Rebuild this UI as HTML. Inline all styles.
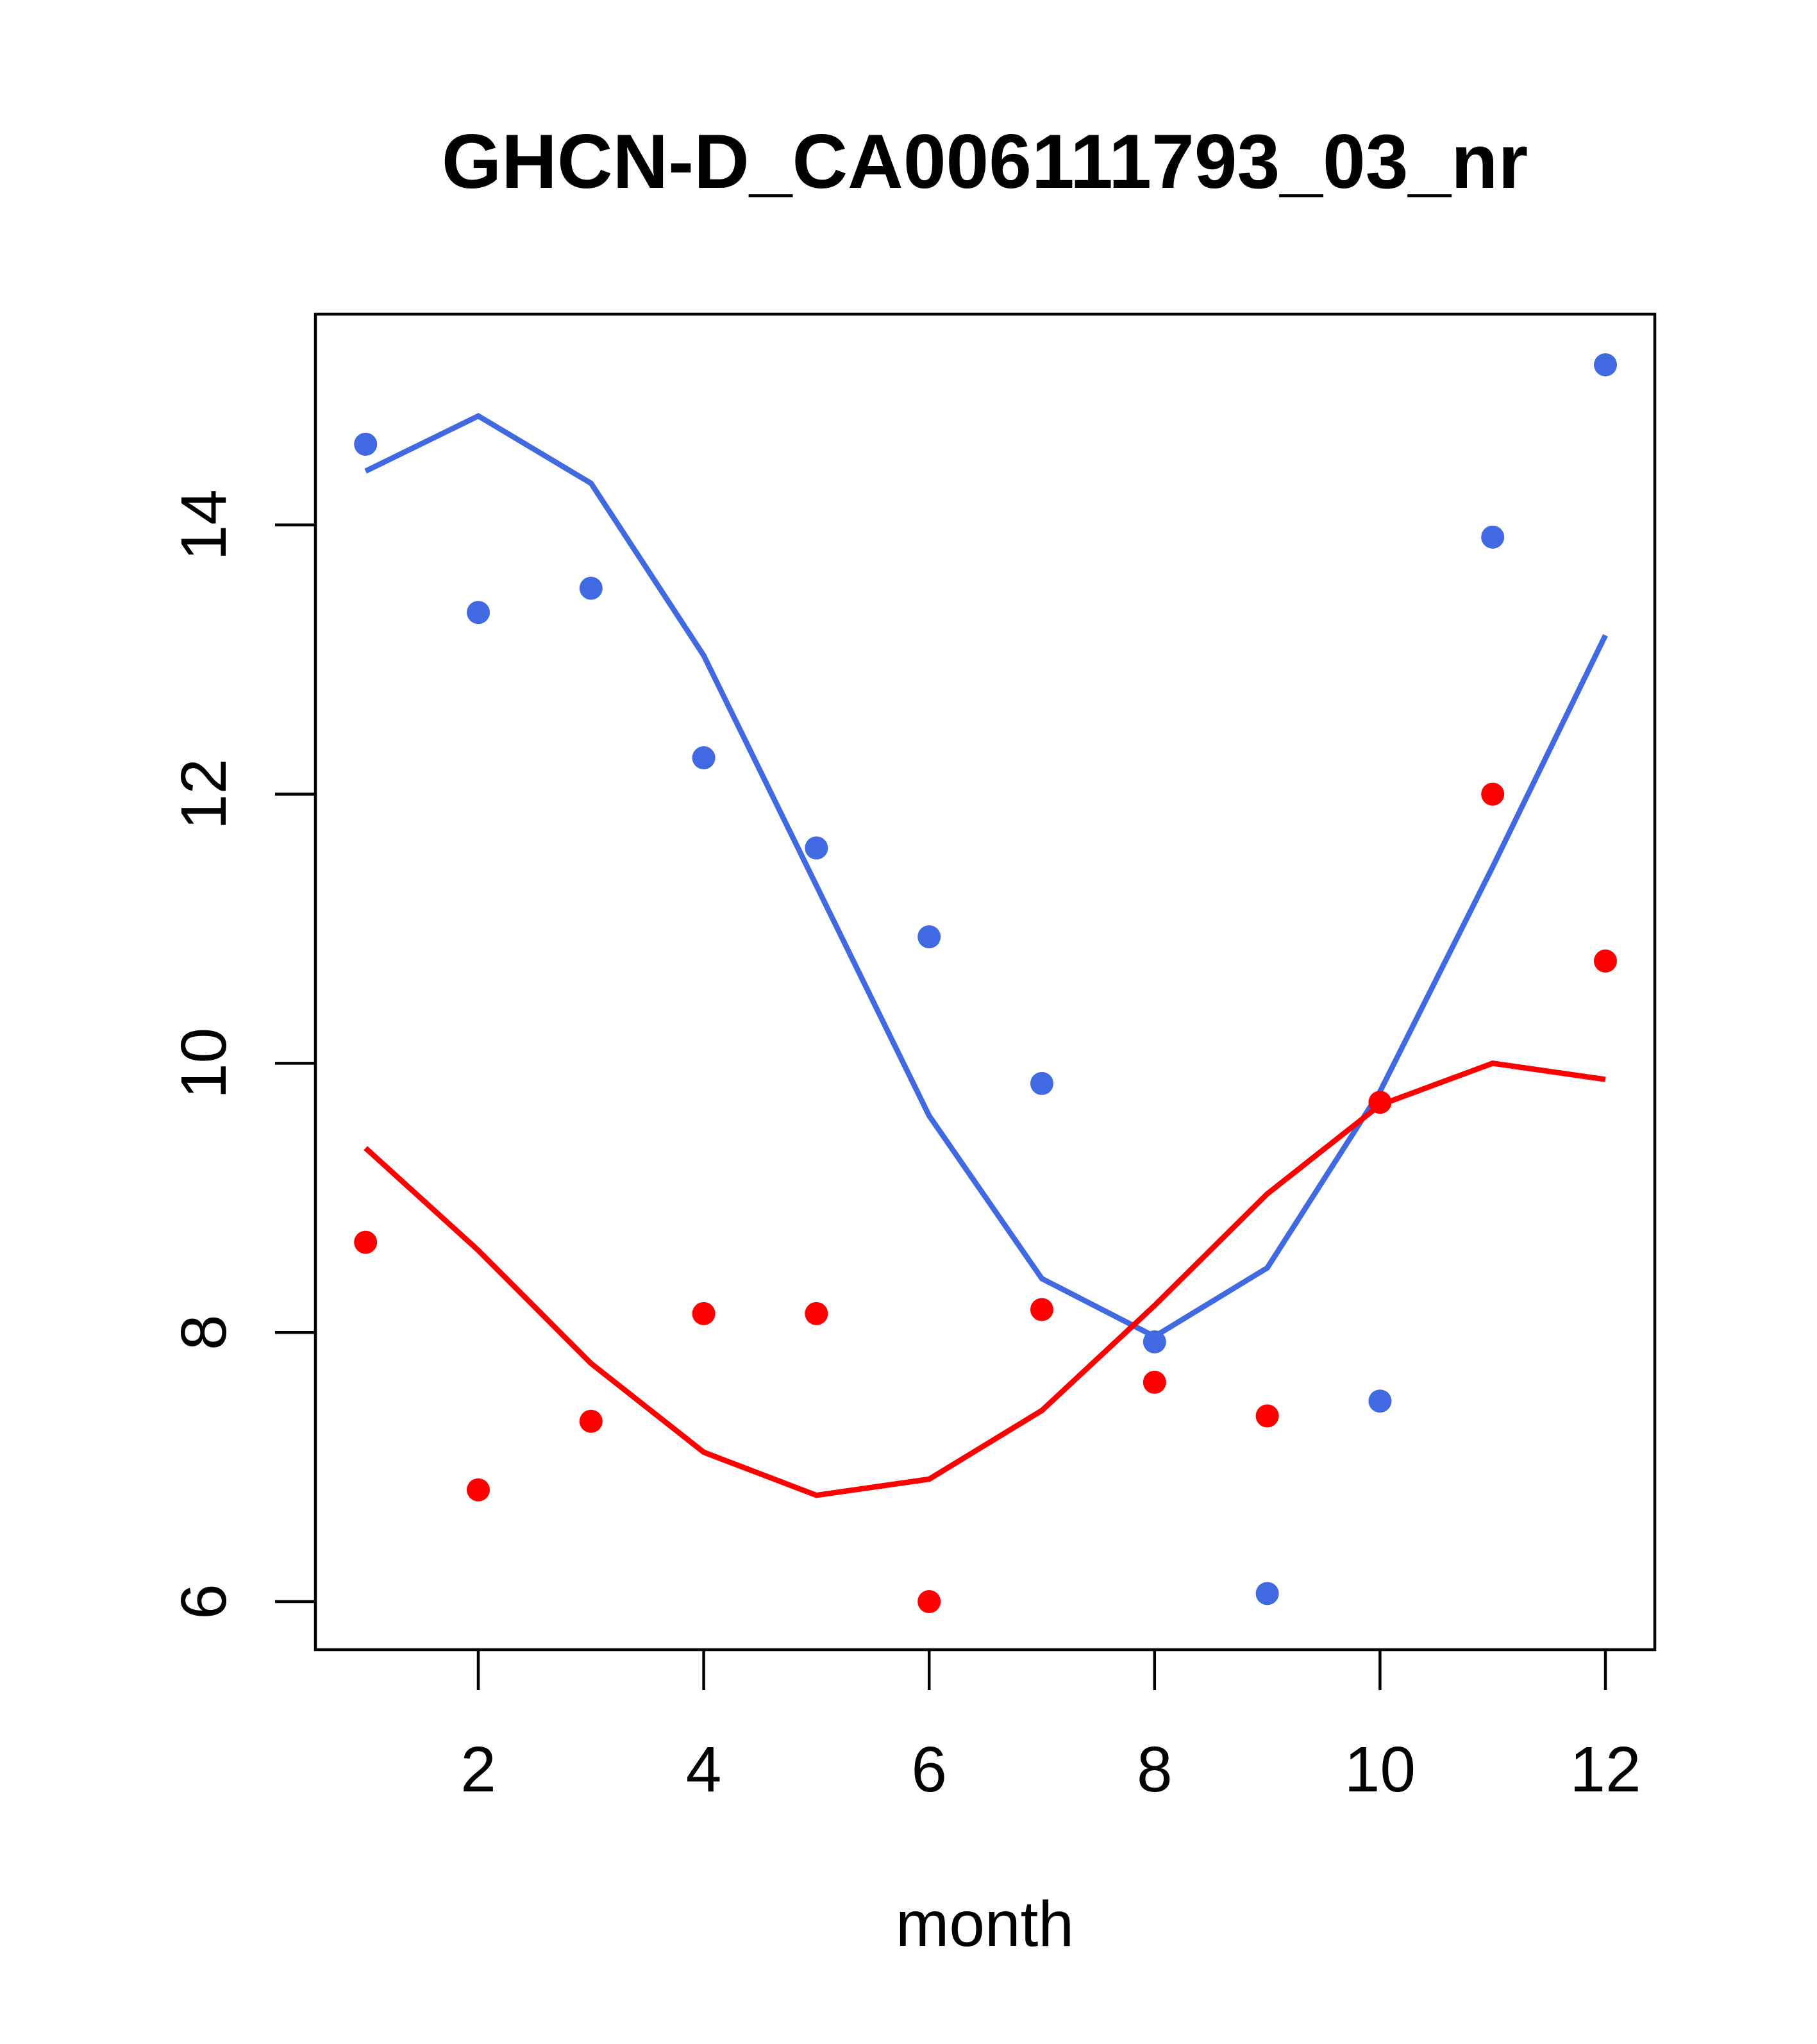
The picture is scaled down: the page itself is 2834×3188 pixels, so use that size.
<!DOCTYPE html>
<html><head><meta charset="utf-8"><style>html,body{margin:0;padding:0;background:#fff}svg{display:block}</style></head>
<body>
<svg id="chart" width="2834" height="3188" viewBox="0 0 2834 3188" xmlns="http://www.w3.org/2000/svg" font-family="Liberation Sans, Arial, sans-serif">
<rect width="2834" height="3188" fill="#fff"/>
<text x="1536" y="293" font-size="120" font-weight="bold" text-anchor="middle">GHCN-D_CA006111793_03_nr</text>
<rect x="492" y="490" width="2089" height="2083" fill="none" stroke="#000" stroke-width="4.5"/>
<text x="1536" y="3035" font-size="100" text-anchor="middle">month</text>
<g id="axes"></g>
<g id="series"></g>
</svg>
<script>
const months=[1,2,3,4,5,6,7,8,9,10,11,12];
const bluePoints=[14.6,13.35,13.53,12.27,11.6,10.94,9.85,7.93,6.06,7.49,13.91,15.19];
const blueLine=[14.4,14.81,14.31,13.03,11.32,9.61,8.4,7.97,8.48,9.79,11.46,13.18];
const redPoints=[8.67,6.83,7.34,8.14,8.14,6.0,8.17,7.63,7.38,9.71,12.0,10.76];
const redLine=[9.37,8.61,7.77,7.11,6.79,6.91,7.42,8.2,9.03,9.69,10.0,9.88];
const xTicks=[2,4,6,8,10,12];
const yTicks=[6,8,10,12,14];
const NS='http://www.w3.org/2000/svg';
function X(m){return 746+(m-2)*175.8;}
function Y(v){return 2498-(v-6)*209.9;}
const axes=document.getElementById('axes'),series=document.getElementById('series');
function mk(tag,attrs,parent){const e=document.createElementNS(NS,tag);for(const k in attrs)e.setAttribute(k,attrs[k]);parent.appendChild(e);return e;}
xTicks.forEach(t=>{
  const l=mk('line',{x1:X(t),x2:X(t),y1:2573,y2:2636,stroke:'#000','stroke-width':4.5},axes);
  
  
  const tx=mk('text',{x:X(t),y:2794,'font-size':100,'text-anchor':'middle'},axes);
  tx.textContent=t;
  
  
});
yTicks.forEach(t=>{
  const l=mk('line',{x1:429,x2:492,y1:Y(t),y2:Y(t),stroke:'#000','stroke-width':4.5},axes);
  
  
  const tx=mk('text',{x:352,y:Y(t),'font-size':100,'text-anchor':'middle',transform:'rotate(-90 352 '+Y(t)+')'},axes);
  tx.textContent=t;
  
  
});
function line(vals,color,name){
  const p=mk('polyline',{points:months.map((m,i)=>X(m)+','+Y(vals[i])).join(' '),fill:'none',stroke:color,'stroke-width':8.5},series);
  
  
}
function pts(vals,color,name){
  months.forEach((m,i)=>{
    const c=mk('circle',{cx:X(m),cy:Y(vals[i]),r:18,fill:color},series);
    
    
  });
}
line(blueLine,'#4169E1','blue-line');
line(redLine,'#FF0000','red-line');
pts(bluePoints,'#4169E1','blue-point');
pts(redPoints,'#FF0000','red-point');
</script>
</body></html>
